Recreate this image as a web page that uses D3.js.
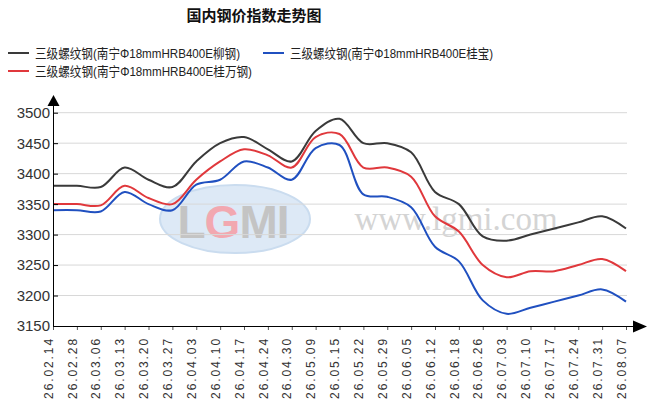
<!DOCTYPE html>
<html><head><meta charset="utf-8">
<script src="https://cdn.jsdelivr.net/npm/d3@7"></script>
<style>body{margin:0;background:#fff;}svg{display:block;font-family:Arial,"Liberation Sans","Noto Sans CJK SC",sans-serif;}</style>
</head><body>
<svg id="c" width="652" height="411"></svg>
<script>
const dates = ["26.02.14","26.02.28","26.03.06","26.03.13","26.03.20","26.03.27","26.04.03","26.04.10","26.04.17","26.04.24","26.04.30","26.05.09","26.05.15","26.05.22","26.05.29","26.06.05","26.06.12","26.06.18","26.06.26","26.07.03","26.07.10","26.07.17","26.07.24","26.07.31","26.08.07"];
const liuGang = [3380,3380,3378,3410,3390,3378,3420,3450,3460,3440,3420,3470,3490,3450,3450,3435,3370,3350,3297,3290,3300,3310,3320,3330,3310];
const guiWanGang = [3350,3350,3348,3380,3360,3350,3390,3420,3440,3430,3410,3460,3465,3410,3410,3395,3330,3305,3250,3230,3240,3240,3250,3260,3240];
const guiBao = [3340,3340,3338,3370,3350,3340,3382,3390,3420,3410,3390,3442,3447,3366,3362,3345,3280,3256,3192,3170,3180,3190,3200,3210,3190];
const yTicks = [3150,3200,3250,3300,3350,3400,3450,3500];
const seriesNames = ["三级螺纹钢(南宁Φ18mmHRB400E柳钢)","三级螺纹钢(南宁Φ18mmHRB400E桂宝)","三级螺纹钢(南宁Φ18mmHRB400E桂万钢)"];
const seriesColors = ["#3a3a3a","#2050c0","#e0383c"];
const seriesData = [liuGang, guiBao, guiWanGang];

const svg = d3.select("#c");
const x = d3.scalePoint().domain(dates).range([53, 626]);
const y = d3.scaleLinear().domain([3150, 3500]).range([326, 112.7]);

// watermark
const wm = svg.append("g");
wm.append("ellipse").attr("cx",235).attr("cy",219).attr("rx",75).attr("ry",34)
  .attr("fill","#dde9f6").attr("stroke","#cadcef").attr("stroke-width",2);
const lg = wm.append("text").attr("x",233).attr("y",238).attr("text-anchor","middle")
  .attr("font-size",46).attr("font-weight","bold").attr("font-family","Arial, sans-serif")
  .attr("letter-spacing","-1px");
lg.append("tspan").text("L").attr("fill","#c4c4c4");
lg.append("tspan").text("G").attr("fill","#f2a8b0");
lg.append("tspan").text("M").attr("fill","#c4c4c4");
lg.append("tspan").text("I").attr("fill","#c4c4c4");
wm.append("text").attr("x",456).attr("y",230).attr("text-anchor","middle")
  .attr("font-size",33).attr("font-family","'Liberation Serif','DejaVu Serif',serif")
  .attr("fill","#d4d4d4").text("www.lgmi.com");

// grid
svg.append("g").selectAll("line").data(yTicks.slice(1)).join("line")
  .attr("x1",53).attr("x2",627).attr("y1",d=>y(d)).attr("y2",d=>y(d))
  .attr("stroke","#d8d8d8").attr("stroke-width",1);

// lines
const line = d3.line().x((d,i)=>x(dates[i])).y(d=>y(d)).curve(d3.curveCatmullRom.alpha(0.5));
[0,2,1].forEach(k=>{
  svg.append("path").datum(seriesData[k]).attr("d",line)
    .attr("fill","none").attr("stroke",seriesColors[k]).attr("stroke-width",2);
});

// y axis
const yAxis = d3.axisRight(y).tickValues(yTicks).tickSize(5).tickFormat("");
const ya = svg.append("g").attr("transform","translate(53,0)").call(yAxis);
ya.select(".domain").remove();
ya.selectAll("line").attr("stroke","#000");
svg.append("g").selectAll("text").data(yTicks).join("text")
  .attr("x",50).attr("y",d=>y(d)).attr("dy","0.36em").attr("text-anchor","end")
  .attr("font-size",15).attr("fill","#333").text(d=>d);
svg.append("line").attr("x1",53.5).attr("x2",53.5).attr("y1",104).attr("y2",326).attr("stroke","#000");
svg.append("path").attr("d","M53.5,95 L47.5,106 L59.5,106 Z").attr("fill","#000");

// x axis
const xAxis = d3.axisBottom(x).tickSize(4).tickFormat("");
const xa = svg.append("g").attr("transform","translate(0,326)").call(xAxis);
xa.select(".domain").remove();
xa.selectAll("line").attr("stroke","#555");
svg.append("line").attr("x1",53).attr("x2",636).attr("y1",326.5).attr("y2",326.5).attr("stroke","#000");
svg.append("path").attr("d","M647,326.5 L633,320.5 L633,332.5 Z").attr("fill","#000");
svg.append("g").selectAll("text").data(dates).join("text")
  .attr("transform",d=>`translate(${x(d)-4.5},337) rotate(-90)`)
  .attr("dy","0.35em").attr("text-anchor","end").attr("font-size",12)
  .attr("letter-spacing","1.9px").attr("fill","#333").text(d=>d);

// title
svg.append("text").attr("x",254).attr("y",21).attr("text-anchor","middle")
  .attr("font-size",15).attr("font-weight","bold").attr("fill","#111")
  .attr("font-family","'Noto Sans CJK SC',sans-serif").text("国内钢价指数走势图");

// legend
const legendPos = [[8,53],[263,53],[8,71]];
const legendLen = [205,203,217];
const lgd = svg.append("g").selectAll("g").data(seriesNames).join("g")
  .attr("transform",(d,i)=>`translate(${legendPos[i][0]},${legendPos[i][1]})`);
lgd.append("line").attr("x1",0).attr("x2",21).attr("y1",0).attr("y2",0)
  .attr("stroke",(d,i)=>seriesColors[i]).attr("stroke-width",2);
lgd.append("text").attr("x",27).attr("y",0).attr("dy","0.36em").attr("font-size",13)
  .attr("textLength",(d,i)=>legendLen[i]).attr("lengthAdjust","spacingAndGlyphs")
  .attr("fill","#222").text(d=>d);
</script>
</body></html>
